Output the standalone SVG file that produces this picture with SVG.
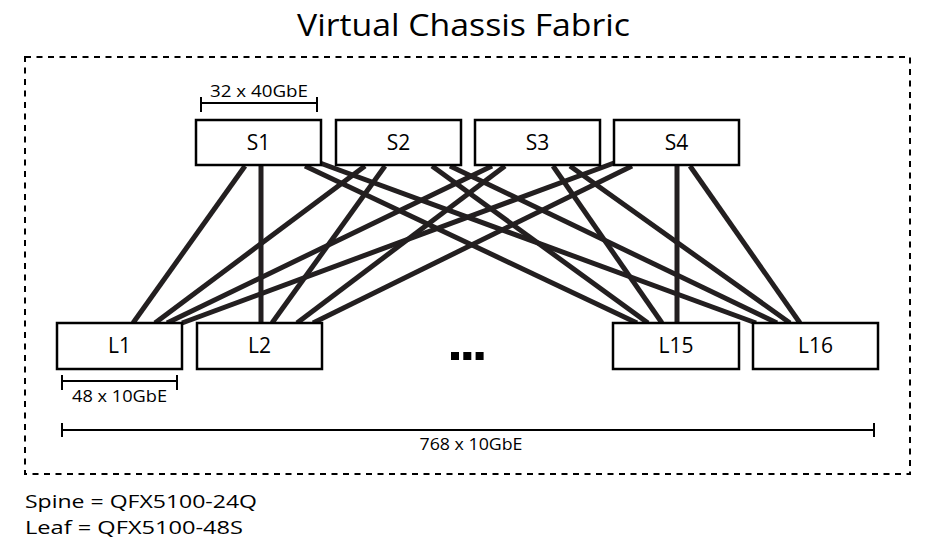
<svg xmlns="http://www.w3.org/2000/svg" width="929" height="541" viewBox="0 0 929 541">
<style>
.box{fill:#fff;stroke:#000;stroke-width:2.5}
.lbl{font-family:"Open Sans","Liberation Sans",sans-serif;font-size:21px;fill:#000;text-anchor:middle}
.small{font-family:"Open Sans","Liberation Sans",sans-serif;font-size:16px;fill:#000;text-anchor:middle}
.big{font-family:"Open Sans","Liberation Sans",sans-serif;fill:#000}
.link{stroke:#231f20;stroke-width:5;fill:none}
.dim{stroke:#000;stroke-width:2;fill:none}
</style>
<rect width="929" height="541" fill="#fff"/>
<text class="big" x="297" y="36" font-size="31" textLength="333" lengthAdjust="spacingAndGlyphs">Virtual Chassis Fabric</text>
<rect x="25" y="57" width="885" height="417" fill="none" stroke="#000" stroke-width="2" stroke-dasharray="6 5.5"/>
<g id="connectors">
<line class="link" x1="245" y1="166" x2="133" y2="323"/>
<line class="link" x1="261" y1="166" x2="261" y2="323"/>
<line class="link" x1="305" y1="166" x2="637" y2="323"/>
<line class="link" x1="320" y1="163" x2="756" y2="323"/>
<line class="link" x1="365" y1="166" x2="155" y2="323"/>
<line class="link" x1="385" y1="166" x2="272" y2="323"/>
<line class="link" x1="432" y1="166" x2="648" y2="323"/>
<line class="link" x1="450" y1="166" x2="777" y2="323"/>
<line class="link" x1="492" y1="166" x2="167" y2="323"/>
<line class="link" x1="505" y1="166" x2="297" y2="323"/>
<line class="link" x1="553" y1="166" x2="662" y2="323"/>
<line class="link" x1="570" y1="166" x2="790" y2="323"/>
<line class="link" x1="614" y1="163" x2="182" y2="323"/>
<line class="link" x1="632" y1="166" x2="313" y2="323"/>
<line class="link" x1="677" y1="166" x2="677" y2="323"/>
<line class="link" x1="690" y1="166" x2="800" y2="323"/>
</g>
<g id="S1"><rect class="box" x="196" y="120" width="125" height="45"/><text class="lbl" x="258.5" y="149.5">S1</text></g>
<g id="S2"><rect class="box" x="336" y="120" width="125" height="45"/><text class="lbl" x="398.5" y="149.5">S2</text></g>
<g id="S3"><rect class="box" x="475" y="120" width="125" height="45"/><text class="lbl" x="537.5" y="149.5">S3</text></g>
<g id="S4"><rect class="box" x="614" y="120" width="125" height="45"/><text class="lbl" x="676.5" y="149.5">S4</text></g>
<g id="L1"><rect class="box" x="57" y="323" width="125" height="46"/><text class="lbl" x="119.5" y="352.5">L1</text></g>
<g id="L2"><rect class="box" x="197" y="323" width="125" height="46"/><text class="lbl" x="259.5" y="352.5">L2</text></g>
<g id="L15"><rect class="box" x="613" y="323" width="126" height="46"/><text class="lbl" x="676" y="352.5">L15</text></g>
<g id="L16"><rect class="box" x="753" y="323" width="125" height="46"/><text class="lbl" x="815.5" y="352.5">L16</text></g>
<g id="ellipsis" fill="#000">
<rect x="451" y="352" width="8" height="8"/><rect x="463.3" y="352" width="8" height="8"/><rect x="475.6" y="352" width="8" height="8"/>
</g>
<g id="dim-spine">
<path class="dim" d="M201 103H317M201 97V112M317 97V112"/>
<text class="small" x="259" y="97" textLength="98" lengthAdjust="spacingAndGlyphs">32 x 40GbE</text>
</g>
<g id="dim-leaf">
<path class="dim" d="M62 381H177M62 375V390M177 375V390"/>
<text class="small" x="119.5" y="401.5" textLength="95" lengthAdjust="spacingAndGlyphs">48 x 10GbE</text>
</g>
<g id="dim-total">
<path class="dim" d="M62 430H874M62 423V437M874 423V437"/>
<text class="small" x="471" y="450" font-size="15" textLength="103" lengthAdjust="spacingAndGlyphs">768 x 10GbE</text>
</g>
<text class="big" x="25" y="508" font-size="19" textLength="232" lengthAdjust="spacingAndGlyphs">Spine = QFX5100-24Q</text>
<text class="big" x="25" y="534" font-size="19" textLength="218" lengthAdjust="spacingAndGlyphs">Leaf = QFX5100-48S</text>
</svg>
